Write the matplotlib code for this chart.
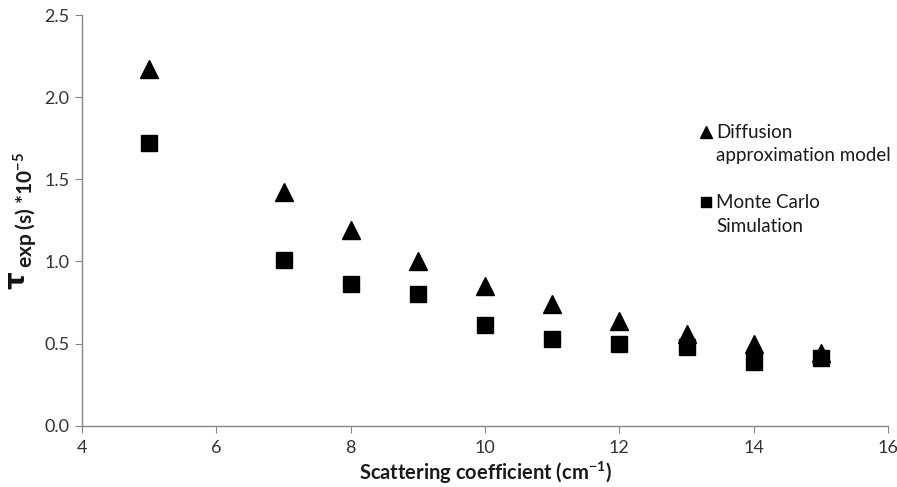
import matplotlib
matplotlib.use("Agg")
import matplotlib.pyplot as plt
from matplotlib.lines import Line2D

plt.rcParams['font.family'] = ['Lato', 'DejaVu Sans']
plt.rcParams['mathtext.fontset'] = 'custom'
plt.rcParams['mathtext.rm'] = 'Lato'
plt.rcParams['mathtext.bf'] = 'Lato:bold'

scattering = [5, 7, 8, 9, 10, 11, 12, 13, 14, 15]
diffusion = [2.17, 1.42, 1.19, 1.00, 0.85, 0.74, 0.64, 0.56, 0.50, 0.44]
monte_carlo = [1.72, 1.01, 0.86, 0.80, 0.61, 0.53, 0.50, 0.48, 0.39, 0.41]
xticks = [4, 6, 8, 10, 12, 14, 16]
yticks = [0.0, 0.5, 1.0, 1.5, 2.0, 2.5]
labels = ['Diffusion\napproximation model', 'Monte Carlo\nSimulation']

W, H = 897, 487
fig = plt.figure(figsize=(W/100, H/100), dpi=100)
ax = fig.add_axes([82/W, 1-425.7/H, (888-82)/W, (425.7-15)/H])

ax.plot(scattering, diffusion, linestyle='none', marker='^', color='black',
        markersize=12.5)
ax.plot(scattering, monte_carlo, linestyle='none', marker='s', color='black',
        markersize=11)

ax.set_xlim(4, 16)
ax.set_ylim(0, 2.5)
ax.set_xticks(xticks)
ax.set_yticks(yticks)
ax.set_yticklabels([f"{v:.1f}" for v in yticks])
for s in ['top', 'right']:
    ax.spines[s].set_visible(False)
for s in ['left', 'bottom']:
    ax.spines[s].set_color('#868686')
    ax.spines[s].set_linewidth(1.0)
ax.tick_params(axis='both', colors='#868686', labelcolor='#333333',
               labelsize=13, length=5, direction='out')
ax.tick_params(axis='x', pad=5)
ax.tick_params(axis='y', pad=4)

ax.set_xlabel(r'Scattering coefficient (cm$^{\mathbf{-1}}$)', fontsize=14.5,
              fontweight='bold', color='#1a1a1a', labelpad=3)

# y-axis label: big bold tau followed by the rest
fig.text(16/W, 1-289/H, 'τ', rotation=90, fontsize=20, fontweight='bold',
         family=['DejaVu Sans'], ha='center', va='bottom', color='#111111')
fig.text(25/W, 1-268/H, r'exp (s) *10$^{\mathbf{-5}}$', rotation=90, fontsize=15,
         fontweight='bold', ha='center', va='bottom', color='#1a1a1a')

# legend (drawn manually to match layout)
leg_items = [('^', 132, 8.5), ('s', 202, 7.5)]
for (mk, yc, ms), lab in zip(leg_items, labels):
    fig.add_artist(Line2D([706/W], [1-yc/H], marker=mk, color='black',
                          markersize=ms, linestyle='none', transform=fig.transFigure))
    lines = lab.split('\n')
    fig.text(716/W, 1-yc/H, lines[0], fontsize=13.5, ha='left', va='center',
             color='#1a1a1a')
    fig.text(716/W, 1-(yc+24)/H, lines[1], fontsize=13.5, ha='left', va='center',
             color='#1a1a1a')

fig.savefig('out.png', dpi=100)
